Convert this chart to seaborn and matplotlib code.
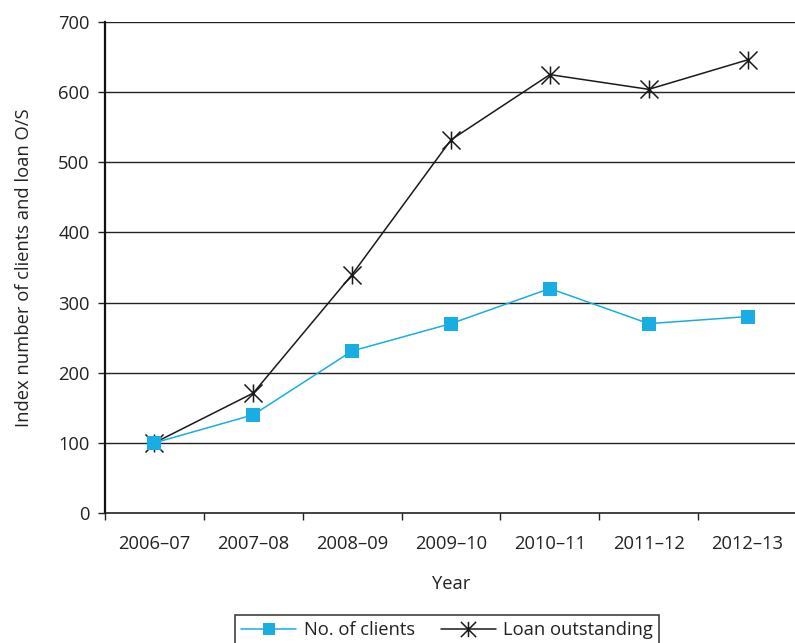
import matplotlib
matplotlib.use("Agg")
import matplotlib.pyplot as plt
from matplotlib.path import Path
from matplotlib.lines import Line2D
import seaborn as sns
import pandas as pd

years = ["2006–07", "2007–08", "2008–09", "2009–10", "2010–11", "2011–12", "2012–13"]
clients = [100, 140, 231, 270, 320, 270, 280]
loan = [100, 171, 340, 532, 625, 604, 646]
yticks = [0, 100, 200, 300, 400, 500, 600, 700]

sns.set_theme(style="white")
plt.rcParams['font.family'] = ['Open Sans', 'DejaVu Sans']
fs = 13.2
plt.rcParams['font.size'] = fs

fig = plt.figure(figsize=(7.95, 6.43), dpi=100)
ax = fig.add_axes([105/795, 1-513/643, 692/795, (513-22)/643])

cyan = "#18aee4"
star = Path([(0, -1), (0, 1), (-1, -1), (1, 1), (-1, 1), (1, -1)],
            [Path.MOVETO, Path.LINETO, Path.MOVETO, Path.LINETO, Path.MOVETO, Path.LINETO])

for y in yticks[1:]:
    ax.axhline(y, color="#222222", lw=1.0, zorder=0)

pos = list(range(len(years)))
df = pd.DataFrame({"pos": pos, "clients": clients, "loan": loan})
sns.lineplot(data=df, x="pos", y="loan", ax=ax, color="#1a1a1a", lw=1.1,
             marker=star, markersize=13, markeredgewidth=1.1, markeredgecolor="#1a1a1a", zorder=3)
sns.lineplot(data=df, x="pos", y="clients", ax=ax, color=cyan, lw=1.1,
             marker="s", markersize=9.5, markeredgewidth=0, markerfacecolor=cyan, zorder=4)

ax.set_xlim(-0.5, 6.5)
ax.set_ylim(0, 700)
ax.set_yticks(yticks)
ax.set_xticks(pos)
ax.set_xticklabels(years)
ax.set_xticks([p - 0.5 for p in pos] + [6.5], minor=True)
ax.tick_params(axis='x', which='major', length=0, pad=16, labelsize=fs, colors="#222222")
ax.tick_params(axis='x', which='minor', length=5, width=1, color="#222222", bottom=True, direction='out')
ax.tick_params(axis='y', length=5, width=1, color="#222222", left=True, labelsize=fs, labelcolor="#222222", pad=6)
for s in ["top", "right"]:
    ax.spines[s].set_visible(False)
ax.spines["left"].set_color("#111111")
ax.spines["left"].set_linewidth(1.6)
ax.spines["bottom"].set_color("#222222")
ax.spines["bottom"].set_linewidth(1.2)

ax.set_xlabel("Year", fontsize=fs, color="#222222", labelpad=16)
ax.set_ylabel("Index number of clients and loan O/S", fontsize=fs, color="#222222", labelpad=18)

handles = [
    Line2D([], [], color=cyan, lw=1.1, marker="s", markersize=9, markeredgewidth=0),
    Line2D([], [], color="#1a1a1a", lw=1.1, marker=star, markersize=11, markeredgewidth=1.1),
]
leg = fig.legend(handles, ["No. of clients", "Loan outstanding"], loc="upper center",
                 bbox_to_anchor=(447/795, 1-615/643), ncol=2, frameon=True, fancybox=False,
                 edgecolor="#111111", fontsize=fs, handlelength=3.0, columnspacing=1.4,
                 handletextpad=0.4, borderpad=0.34, borderaxespad=0)
leg.get_frame().set_linewidth(1.2)
for t in leg.get_texts():
    t.set_color("#222222")

fig.savefig("out.png", dpi=100)
